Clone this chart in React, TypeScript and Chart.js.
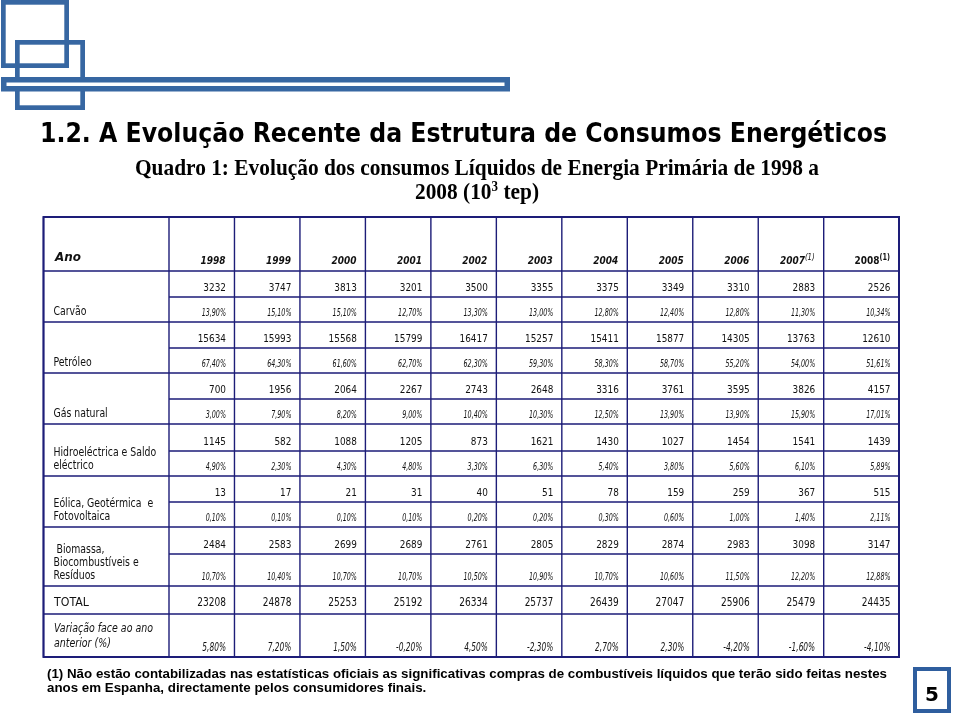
import React, { useEffect, useRef } from "react";
import { Chart, registerables } from "chart.js";
Chart.register(...registerables);

// ---------- data ----------
const years = ["1998", "1999", "2000", "2001", "2002", "2003", "2004", "2005", "2006", "2007", "2008"];
const noteYears = ["2007", "2008"];

const carvao = [3232, 3747, 3813, 3201, 3500, 3355, 3375, 3349, 3310, 2883, 2526];
const carvaoPct = [13.9, 15.1, 15.1, 12.7, 13.3, 13.0, 12.8, 12.4, 12.8, 11.3, 10.34];
const petroleo = [15634, 15993, 15568, 15799, 16417, 15257, 15411, 15877, 14305, 13763, 12610];
const petroleoPct = [67.4, 64.3, 61.6, 62.7, 62.3, 59.3, 58.3, 58.7, 55.2, 54.0, 51.61];
const gasNatural = [700, 1956, 2064, 2267, 2743, 2648, 3316, 3761, 3595, 3826, 4157];
const gasNaturalPct = [3.0, 7.9, 8.2, 9.0, 10.4, 10.3, 12.5, 13.9, 13.9, 15.9, 17.01];
const hidro = [1145, 582, 1088, 1205, 873, 1621, 1430, 1027, 1454, 1541, 1439];
const hidroPct = [4.9, 2.3, 4.3, 4.8, 3.3, 6.3, 5.4, 3.8, 5.6, 6.1, 5.89];
const eolica = [13, 17, 21, 31, 40, 51, 78, 159, 259, 367, 515];
const eolicaPct = [0.1, 0.1, 0.1, 0.1, 0.2, 0.2, 0.3, 0.6, 1.0, 1.4, 2.11];
const biomassa = [2484, 2583, 2699, 2689, 2761, 2805, 2829, 2874, 2983, 3098, 3147];
const biomassaPct = [10.7, 10.4, 10.7, 10.7, 10.5, 10.9, 10.7, 10.6, 11.5, 12.2, 12.88];
const total = [23208, 24878, 25253, 25192, 26334, 25737, 26439, 27047, 25906, 25479, 24435];
const variacao = [5.8, 7.2, 1.5, -0.2, 4.5, -2.3, 2.7, 2.3, -4.2, -1.6, -4.1];

const groupLabels = [
  ["Carvão"],
  ["Petróleo"],
  ["Gás natural"],
  ["Hidroeléctrica e Saldo", "eléctrico"],
  ["Eólica, Geotérmica  e", "Fotovoltaica"],
  [" Biomassa,", "Biocombustíveis e", "Resíduos"],
];
const groupValues = [carvao, petroleo, gasNatural, hidro, eolica, biomassa];
const groupPcts = [carvaoPct, petroleoPct, gasNaturalPct, hidroPct, eolicaPct, biomassaPct];

const headerLabel = "Ano";
const totalLabel = "TOTAL";
const variacaoLabel = ["Variação face ao ano", "anterior (%)"];

const titleText = "1.2. A Evolução Recente da Estrutura de Consumos Energéticos";
const subtitle1 = "Quadro 1: Evolução dos consumos Líquidos de Energia Primária de 1998 a";
const subtitle2 = ["2008 (10", "3", " tep)"];
const footnote = [
  "(1) Não estão contabilizadas nas estatísticas oficiais as significativas compras de combustíveis líquidos que terão sido feitas nestes",
  "anos em Espanha, directamente pelos consumidores finais.",
];
const pageNumber = "5";

// ---------- layout (sizes in scale units) ----------
const COL_W = [1, 1, 1, 1, 1, 1, 1, 1, 1, 1, 1.15];
const ROW_H = [26, 25, 26, 25, 26, 25, 27, 25, 26, 25, 27, 32, 28, 43];
const HEADER_H = 54;
const TABLE_LEFT = 43.5;
const LINE = "#1d1d78";
const BLUE = "#3767a2";
const INK = "#111111";
const SANS = "'DejaVu Sans', Verdana, sans-serif";

const fmtPct = (v: number) => v.toFixed(2).replace(".", ",") + "%";
const cum = (a: number[]) => a.reduce((acc: number[], v) => { acc.push(acc[acc.length - 1] + v); return acc; }, [0]);

type Seg = { t: string; font: string; dy?: number };

function measure(ctx: CanvasRenderingContext2D, font: string, t: string) {
  ctx.font = font;
  return ctx.measureText(t).width;
}

function rich(ctx: CanvasRenderingContext2D, segs: Seg[], x: number, y: number, align: "left" | "right" | "center", sx: number) {
  const ws = segs.map((s) => measure(ctx, s.font, s.t) * sx);
  const tw = ws.reduce((a, b) => a + b, 0);
  let start = align === "left" ? x : align === "right" ? x - tw : x - tw / 2;
  ctx.textAlign = "left";
  ctx.textBaseline = "alphabetic";
  segs.forEach((s, i) => {
    ctx.save();
    ctx.translate(start, y + (s.dy || 0));
    ctx.scale(sx, 1);
    ctx.font = s.font;
    ctx.fillText(s.t, 0, 0);
    ctx.restore();
    start += ws[i];
  });
}

const tablePlugin = {
  id: "tablePlugin",
  beforeDraw(chart: any) {
    const ctx: CanvasRenderingContext2D = chart.ctx;
    ctx.save();
    ctx.fillStyle = "#ffffff";
    ctx.fillRect(0, 0, chart.width, chart.height);
    ctx.restore();
  },
  afterDraw(chart: any) {
    const ctx: CanvasRenderingContext2D = chart.ctx;
    const xs = chart.scales.x;
    const ys = chart.scales.y;
    const ca = chart.chartArea;
    const cx = cum(COL_W).map((v) => xs.getPixelForValue(v));
    const ry = cum(ROW_H).map((v) => ys.getPixelForValue(v));
    const top = ca.top - HEADER_H;
    const right = cx[cx.length - 1];
    const bottom = ry[ry.length - 1];

    ctx.save();

    // ---- decoration ----
    ctx.strokeStyle = BLUE;
    ctx.lineWidth = 4.7;
    ctx.strokeRect(3.35, 2.35, 63.3, 63.3);
    ctx.strokeRect(17.35, 42.35, 65.3, 65.3);
    ctx.fillStyle = "#ffffff";
    ctx.fillRect(3.75, 79.75, 503.5, 9);
    ctx.lineWidth = 5.5;
    ctx.strokeRect(3.75, 79.75, 503.5, 9);

    // ---- titles ----
    ctx.fillStyle = "#000000";
    const tFont = `bold 27px ${SANS}`;
    rich(ctx, [{ t: titleText, font: tFont }], 40, 141.5, "left", 847 / measure(ctx, tFont, titleText));
    const sFont = "bold 23px 'Liberation Serif', 'Times New Roman', serif";
    const sSup = "bold 14px 'Liberation Serif', 'Times New Roman', serif";
    const ssx = 684 / measure(ctx, sFont, subtitle1);
    rich(ctx, [{ t: subtitle1, font: sFont }], 477, 175, "center", ssx);
    rich(ctx, [{ t: subtitle2[0], font: sFont }, { t: subtitle2[1], font: sSup, dy: -8 }, { t: subtitle2[2], font: sFont }], 477, 199, "center", ssx);

    // ---- grid ----
    ctx.strokeStyle = LINE;
    ctx.lineWidth = 1.4;
    ctx.beginPath();
    [TABLE_LEFT, ...cx].forEach((x) => { ctx.moveTo(x, top); ctx.lineTo(x, bottom); });
    ctx.moveTo(TABLE_LEFT, top); ctx.lineTo(right, top);
    ctx.moveTo(TABLE_LEFT, ca.top); ctx.lineTo(right, ca.top);
    const groupEnds = [2, 4, 6, 8, 10, 12, 13, 14];
    for (let j = 1; j < ry.length; j++) {
      const x0 = groupEnds.includes(j) ? TABLE_LEFT : cx[0];
      ctx.moveTo(x0, ry[j]); ctx.lineTo(right, ry[j]);
    }
    ctx.stroke();
    ctx.lineWidth = 2;
    ctx.strokeRect(TABLE_LEFT, top, right - TABLE_LEFT, bottom - top);

    // ---- text styles ----
    ctx.fillStyle = INK;
    const numF = `11px ${SANS}`;
    const pctF = `italic 10.5px ${SANS}`;
    const labF = `11.5px ${SANS}`;
    const totLabF = `13px ${SANS}`;
    const totF = `11.5px ${SANS}`;
    const varLabF = `italic 11.5px ${SANS}`;
    const varF = `italic 11.5px ${SANS}`;
    const yrF = `bold italic 11px ${SANS}`;
    const yrUF = `bold 11px ${SANS}`;
    const anoF = `bold italic 11.5px ${SANS}`;
    const numSx = 28.3 / measure(ctx, numF, "15634");
    const pctSx = 24.3 / measure(ctx, pctF, "13,90%");
    const labSx = 102.7 / measure(ctx, labF, "Hidroeléctrica e Saldo");
    const totLabSx = 35 / measure(ctx, totLabF, "TOTAL");
    const totSx = 28.7 / measure(ctx, totF, "23208");
    const varLabSx = 99 / measure(ctx, varLabF, "Variação face ao ano");
    const varSx = 23.7 / measure(ctx, varF, "5,80%");
    const yrSx = 25 / measure(ctx, yrF, "1998");
    const anoSx = 26 / measure(ctx, anoF, "Ano");

    // header
    rich(ctx, [{ t: headerLabel, font: anoF }], 55, ca.top - 10, "left", anoSx);
    years.forEach((yv, i) => {
      const last = i === years.length - 1;
      const f = last ? yrUF : yrF;
      const segs: Seg[] = [{ t: yv, font: f }];
      if (noteYears.includes(yv)) segs.push({ t: "(1)", font: last ? `bold 8px ${SANS}` : `italic 8.5px ${SANS}`, dy: -4.5 });
      rich(ctx, segs, cx[i + 1] - 9, ca.top - 7, "right", yrSx);
    });

    // groups
    groupValues.forEach((vals, g) => {
      const r = 2 * g;
      vals.forEach((v, i) => {
        rich(ctx, [{ t: String(v), font: numF }], cx[i + 1] - 8.5, ry[r + 1] - 6, "right", numSx);
        rich(ctx, [{ t: fmtPct(groupPcts[g][i]), font: pctF }], cx[i + 1] - 8.5, ry[r + 2] - 6.5, "right", pctSx);
      });
      const lines = groupLabels[g];
      lines.forEach((ln, k) => {
        const y = ry[r + 2] - 7.5 - (lines.length - 1 - k) * 12.6;
        rich(ctx, [{ t: ln, font: labF }], TABLE_LEFT + 10, y, "left", labSx);
      });
    });

    // total
    rich(ctx, [{ t: totalLabel, font: totLabF }], TABLE_LEFT + 10.5, ry[13] - 8, "left", totLabSx);
    total.forEach((v, i) => {
      rich(ctx, [{ t: String(v), font: totF }], cx[i + 1] - 8.5, ry[13] - 8, "right", totSx);
    });

    // variation
    variacaoLabel.forEach((ln, k) => {
      rich(ctx, [{ t: ln, font: varLabF }], TABLE_LEFT + 10.5, ry[14] - 10.3 - (variacaoLabel.length - 1 - k) * 15, "left", varLabSx);
    });
    variacao.forEach((v, i) => {
      rich(ctx, [{ t: fmtPct(v), font: varF }], cx[i + 1] - 8.5, ry[14] - 6.5, "right", varSx);
    });

    // footnote
    ctx.fillStyle = "#000000";
    const fF = "bold 13.5px 'Liberation Sans', Arial, sans-serif";
    const fSx = 840 / measure(ctx, fF, footnote[0]);
    rich(ctx, [{ t: footnote[0], font: fF }], 47, 677.5, "left", fSx);
    rich(ctx, [{ t: footnote[1], font: fF }], 47, 692, "left", fSx);

    // page number box
    ctx.strokeStyle = "#2f5e9e";
    ctx.lineWidth = 4;
    ctx.strokeRect(915, 669, 34, 42);
    ctx.fillStyle = "#000000";
    ctx.font = `bold 20px ${SANS}`;
    ctx.textAlign = "center";
    ctx.fillText(pageNumber, 932, 701);

    ctx.restore();
  },
};

export default function App() {
  const ref = useRef<HTMLCanvasElement | null>(null);
  useEffect(() => {
    if (!ref.current) return;
    const sumCol = COL_W.reduce((a, b) => a + b, 0);
    const sumRow = ROW_H.reduce((a, b) => a + b, 0);
    const chart = new Chart(ref.current, {
      type: "scatter",
      data: { datasets: [{ data: [], pointRadius: 0 }] },
      options: {
        animation: false,
        responsive: false,
        maintainAspectRatio: false,
        events: [],
        layout: { padding: { left: 169, right: 61, top: 271, bottom: 59 } },
        plugins: { legend: { display: false }, tooltip: { enabled: false }, title: { display: false } },
        scales: {
          x: { type: "linear", min: 0, max: sumCol, display: false },
          y: { type: "linear", min: 0, max: sumRow, reverse: true, display: false },
        },
      },
      plugins: [tablePlugin],
    } as any);
    return () => chart.destroy();
  }, []);
  return (
    <div style={{ position: "absolute", left: 0, top: 0, width: 960, height: 716, background: "#fff" }}>
      <canvas ref={ref} width={960} height={716} style={{ display: "block", width: 960, height: 716 }} />
    </div>
  );
}
